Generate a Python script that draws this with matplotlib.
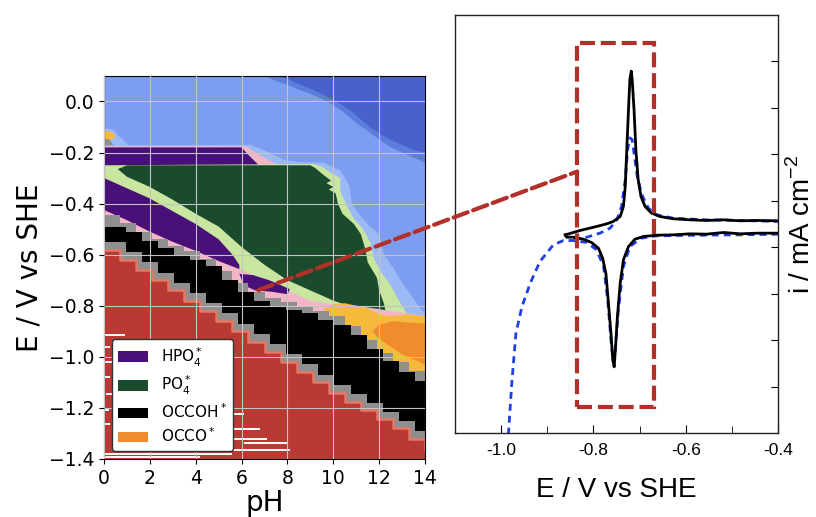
import numpy as np
import matplotlib.pyplot as plt
from matplotlib.patches import Patch, Rectangle, ConnectionPatch

# ---------------- Pourbaix-type surface map (left panel) ----------------
c_dark_blue, c_mid_blue, c_light_blue, c_pale_blue = "#4763cb", "#5d7ddc", "#7d9ef0", "#9bb9f5"
c_pink, c_purple, c_light_green, c_green = "#f2b6c6", "#481078", "#c8e6a0", "#1b4b2d"
c_yellow, c_orange, c_gray, c_black = "#f5b93c", "#f08c2d", "#8f8f8f", "#000000"
c_salmon, c_red = "#e67864", "#b93a34"

# region outlines (pH, E / V vs SHE)
mid_ph = [7.0, 7.5, 8.0, 8.5, 9.0, 9.5, 10.0, 10.5, 11.0, 11.5, 12.0, 12.5, 13.0, 13.5, 14.0, 14.0]
mid_E = [0.1, 0.08, 0.065, 0.045, 0.03, 0.01, -0.015, -0.045, -0.085, -0.115, -0.15, -0.18, -0.20, -0.22, -0.24, 0.1]
dark_ph = [7.5, 8.0, 8.3, 8.6, 9.0, 9.5, 10.0, 10.4, 10.8, 11.2, 11.6, 12.1, 12.6, 13.0, 13.5, 14.0, 14.0]
dark_E = [0.1, 0.09, 0.075, 0.065, 0.05, 0.03, 0.005, -0.015, -0.04, -0.07, -0.10, -0.13, -0.155, -0.17, -0.19, -0.20, 0.1]

corner_rim_ph = [0, 0.4, 0.7, 1.0, 1.2, 0]
corner_rim_E = [-0.105, -0.11, -0.14, -0.165, -0.178, -0.178]
corner_yellow_ph = [0, 0.35, 0.5, 0.35, 0]
corner_yellow_E = [-0.115, -0.12, -0.135, -0.15, -0.155]
corner_gray_ph = [0, 0.25, 0.45, 0]
corner_gray_E = [-0.145, -0.15, -0.178, -0.178]

rim_ph = [0, 6.4, 7.2, 7.9, 8.6, 9.6, 10.3, 10.7, 10.8, 11.1, 11.6, 12.0, 12.2, 12.6, 13.0, 13.4, 13.8, 14.0, 14.0, 0]
rim_E = [-0.172, -0.17, -0.20, -0.23, -0.238, -0.24, -0.27, -0.33, -0.40, -0.44, -0.49, -0.52, -0.60, -0.65, -0.71, -0.76, -0.81, -0.83, -1.4, -1.4]

top_pink_ph = [0, 6.2, 6.6, 7.2, 7.6, 7.6, 0]
top_pink_E = [-0.175, -0.175, -0.20, -0.23, -0.25, -0.26, -0.26]
top_purple_ph = [0, 6.0, 6.3, 6.7, 6.8, 0]
top_purple_E = [-0.18, -0.18, -0.21, -0.245, -0.26, -0.26]

lg_ph = [0, 9.1, 9.5, 9.9, 10.3, 10.3, 10.6, 10.9, 11.3, 11.6, 11.8, 12.1, 12.5, 12.8, 13.2, 13.3, 13.3, 0]
lg_E = [-0.25, -0.245, -0.255, -0.28, -0.30, -0.35, -0.41, -0.46, -0.50, -0.55, -0.62, -0.67, -0.72, -0.77, -0.83, -0.86, -1.4, -1.4]

green_ph = [0.6, 1.0, 3.0, 6.0, 9.0, 9.2, 9.6, 9.9, 9.7, 10.0, 9.8, 10.1, 10.2, 10.4, 10.9, 11.2, 11.4, 11.5, 11.9, 12.0, 12.2, 12.3,
            11.6, 11.0, 10.0, 9.0, 8.0, 7.0, 6.0, 5.0, 4.0, 3.0, 2.0, 1.0]
green_E = [-0.265, -0.25, -0.25, -0.25, -0.25, -0.26, -0.29, -0.31, -0.32, -0.335, -0.345, -0.36, -0.40, -0.44, -0.48, -0.52, -0.58,
           -0.63, -0.69, -0.74, -0.79, -0.83, -0.825, -0.81, -0.78, -0.74, -0.70, -0.64, -0.57, -0.49, -0.44, -0.385, -0.335, -0.295]

purple_lo_ph = [0, 1, 2, 3, 4, 5, 5.6, 5.9, 5.9, 0]
purple_lo_E = [-0.30, -0.34, -0.38, -0.43, -0.48, -0.54, -0.60, -0.64, -1.4, -1.4]

pink_ph = [0, 1, 2, 3, 4, 5, 6, 7, 8, 9, 10, 11, 14, 14, 0]
pink_E = [-0.425, -0.465, -0.51, -0.55, -0.585, -0.625, -0.66, -0.70, -0.74, -0.78, -0.795, -0.80, -0.84, -1.4, -1.4]

blob_ph = [5.9, 6.5, 7.2, 7.6, 8.1, 8.0, 7.3, 6.6, 6.1]
blob_E = [-0.675, -0.68, -0.70, -0.715, -0.735, -0.755, -0.745, -0.74, -0.72]

yellow_ph = [9.6, 10.0, 10.5, 11.0, 11.5, 12.0, 12.5, 13.3, 14.0, 14.0, 9.6]
yellow_E = [-0.81, -0.795, -0.79, -0.80, -0.81, -0.835, -0.84, -0.835, -0.84, -1.4, -1.4]
orange_ph = [11.7, 12.0, 12.6, 13.2, 14.0, 14.0, 13.5, 13.0, 12.5, 12.0]
orange_E = [-0.90, -0.875, -0.86, -0.865, -0.87, -1.03, -1.01, -0.99, -0.96, -0.93]

# staircase boundaries of the lower bands
ph_stair = np.arange(0, 14.01, 0.7)
gray_up_top = [-0.445, -0.475, -0.51, -0.54, -0.565, -0.585, -0.615, -0.665, -0.71, -0.745, -0.77,
               -0.785, -0.80, -0.82, -0.84, -0.88, -0.935, -0.985, -1.02, -1.055, -1.09]
black_top = [-0.49, -0.51, -0.545, -0.575, -0.60, -0.62, -0.645, -0.70, -0.745, -0.78, -0.80,
             -0.815, -0.83, -0.855, -0.875, -0.915, -0.97, -1.015, -1.06, -1.095, -1.13]
gray_lo_top = [-0.55, -0.59, -0.63, -0.67, -0.71, -0.75, -0.79, -0.83, -0.87, -0.91, -0.95,
               -0.99, -1.03, -1.07, -1.11, -1.145, -1.18, -1.215, -1.25, -1.29, -1.33]
red_top = [-0.58, -0.62, -0.66, -0.70, -0.74, -0.78, -0.82, -0.86, -0.90, -0.94, -0.98,
           -1.02, -1.06, -1.10, -1.14, -1.175, -1.21, -1.245, -1.28, -1.32, -1.36]

# unconverged points inside the red region
streak_E = [-0.916, -0.962, -1.02, -1.08, -1.146, -1.21, -1.264, -1.225, -1.284, -1.323, -1.336, -1.363, -1.382, -1.393]
streak_ph0 = [0, 0, 0, 0, 0.1, 0, 0, 5.5, 5.6, 5.5, 6.1, 5.5, 0, 0]
streak_ph1 = [0.92, 0.26, 0.33, 0.26, 0.33, 0.2, 0.26, 6.1, 6.8, 7.1, 8.0, 8.1, 5.6, 4.2]

legend_labels = [r"HPO$_4^*$", r"PO$_4^*$", r"OCCOH$^*$", r"OCCO$^*$"]
legend_colors = [c_purple, c_green, c_black, c_orange]

# ---------------- cyclic voltammogram (right panel) ----------------
cv_up_E = [-0.861, -0.829, -0.793, -0.771, -0.757, -0.742, -0.735, -0.731, -0.728, -0.724, -0.721, -0.718, -0.716,
           -0.712, -0.708, -0.703, -0.697, -0.688, -0.674, -0.656, -0.627, -0.591, -0.555, -0.518, -0.482, -0.446, -0.399]
cv_up_i = [-0.734, -0.640, -0.554, -0.496, -0.446, -0.338, -0.122, 0.309, 1.029, 1.964, 2.612, 2.791, 2.612,
           1.964, 1.101, 0.453, 0.094, -0.122, -0.266, -0.338, -0.388, -0.410, -0.424, -0.410, -0.432, -0.424, -0.432]
cv_dn_E = [-0.399, -0.446, -0.482, -0.518, -0.555, -0.591, -0.627, -0.663, -0.692, -0.710, -0.724, -0.735, -0.742, -0.748,
           -0.752, -0.755, -0.758, -0.762, -0.768, -0.773, -0.780, -0.789, -0.804, -0.822, -0.843, -0.858, -0.861]
cv_dn_i = [-0.698, -0.698, -0.712, -0.683, -0.719, -0.712, -0.734, -0.741, -0.770, -0.827, -0.986, -1.273, -1.777, -2.496,
           -3.144, -3.576, -3.432, -2.856, -2.137, -1.561, -1.237, -1.022, -0.899, -0.827, -0.784, -0.784, -0.734]

ref_up_E = [-0.843, -0.814, -0.786, -0.764, -0.749, -0.739, -0.731, -0.726, -0.721, -0.716, -0.711, -0.705, -0.695,
            -0.681, -0.663, -0.627, -0.555, -0.482, -0.399]
ref_up_i = [-0.827, -0.784, -0.698, -0.590, -0.410, -0.122, 0.453, 1.101, 1.353, 1.317, 0.957, 0.525, 0.129,
            -0.158, -0.302, -0.374, -0.410, -0.424, -0.446]
ref_dn_E = [-0.399, -0.482, -0.569, -0.663, -0.697, -0.721, -0.735, -0.746, -0.753, -0.757, -0.762, -0.769, -0.778,
            -0.793, -0.814, -0.843, -0.865, -0.887, -0.916, -0.937, -0.955, -0.968, -0.977, -0.984, -0.986]
ref_dn_i = [-0.719, -0.734, -0.741, -0.755, -0.806, -0.986, -1.417, -2.353, -3.288, -3.468, -3.0, -2.137, -1.417,
            -1.058, -0.899, -0.856, -0.856, -0.950, -1.309, -1.777, -2.281, -2.856, -3.935, -5.0, -5.3]

box_E = (-0.835, -0.669)
box_i = (-4.45, 3.40)
link_left = (6.73, -0.739)
link_right = (-0.835, 0.63)

cv_xticks = [-1.0, -0.8, -0.6, -0.4]
cv_xticklabels = ["-1.0", "-0.8", "-0.6", "-0.4"]
cv_minor = [-0.9, -0.7, -0.5]
cv_yticks = [-4, -3, -2, -1, 0, 1, 2, 3]

dark_red = "#b2302a"

fig = plt.figure(figsize=(8.16, 5.17), dpi=100)
ax1 = fig.add_axes([0.1275, 0.1122, 0.3934, 0.741])
ax2 = fig.add_axes([0.5576, 0.1625, 0.3958, 0.8085])

# left panel
ax1.set_facecolor(c_light_blue)
ax1.fill(mid_ph, mid_E, color=c_mid_blue, lw=0)
ax1.fill(dark_ph, dark_E, color=c_dark_blue, lw=0)
ax1.fill(corner_rim_ph, corner_rim_E, color=c_pale_blue, lw=0)
ax1.fill(corner_yellow_ph, corner_yellow_E, color=c_yellow, lw=0)
ax1.fill(corner_gray_ph, corner_gray_E, color=c_gray, lw=0)
ax1.fill(rim_ph, rim_E, color=c_pale_blue, lw=0)
ax1.fill(top_pink_ph, top_pink_E, color=c_pink, lw=0)
ax1.fill(top_purple_ph, top_purple_E, color=c_purple, lw=0)
ax1.fill(lg_ph, lg_E, color=c_light_green, lw=0)
ax1.fill(green_ph, green_E, color=c_green, lw=0)
ax1.fill(purple_lo_ph, purple_lo_E, color=c_purple, lw=0)
ax1.fill(pink_ph, pink_E, color=c_pink, lw=0)
ax1.fill(blob_ph, blob_E, color=c_purple, lw=0)
ax1.fill(yellow_ph, yellow_E, color=c_yellow, lw=0)
ax1.fill(orange_ph, orange_E, color=c_orange, lw=0)

# the lower edge of each band steps a little to the right of the one below it
ph_shift = np.clip(ph_stair + 0.25, 0, 14)
ph_shift[0] = 0
ax1.fill_between(ph_stair, gray_up_top, -1.4, step="post", color=c_gray, lw=0)
ax1.fill_between(ph_shift, black_top, -1.4, step="post", color=c_black, lw=0)
ax1.fill_between(ph_shift, gray_lo_top, -1.4, step="post", color=c_gray, lw=0)
ax1.fill_between(ph_stair, red_top, -1.4, step="post", color=c_red, lw=0)
ax1.step(ph_stair, red_top, where="post", color=c_salmon, lw=1.8)
ax1.hlines(streak_E, streak_ph0, streak_ph1, color="white", lw=1.4)

ax1.set_xlim(0, 14)
ax1.set_ylim(-1.4, 0.1)
ax1.set_xticks(range(0, 15, 2))
ax1.set_yticks(np.round(np.arange(-1.4, 0.01, 0.2), 1))
ax1.grid(True, color="#c4c4c4", lw=0.8)
ax1.set_axisbelow(False)
ax1.tick_params(labelsize=13.5)
ax1.set_xlabel("pH", fontsize=20, labelpad=1)
ax1.set_ylabel("E / V vs SHE", fontsize=20)

handles = [Patch(facecolor=c) for c in legend_colors]
leg = ax1.legend(handles, legend_labels, loc="lower left", fontsize=11, framealpha=1,
                 edgecolor="#333333", labelspacing=0.35)
leg.set_zorder(10)

# right panel
ax2.plot(ref_up_E, ref_up_i, color="#1f3fe6", lw=2, linestyle=(0, (2.5, 1.8)))
ax2.plot(ref_dn_E, ref_dn_i, color="#1f3fe6", lw=2, linestyle=(0, (2.5, 1.8)))
ax2.plot(cv_up_E, cv_up_i, color="black", lw=2)
ax2.plot(cv_dn_E, cv_dn_i, color="black", lw=2)

ax2.add_patch(Rectangle((box_E[0], box_i[0]), box_E[1] - box_E[0], box_i[1] - box_i[0],
                        fill=False, edgecolor=dark_red, lw=3, linestyle=(0, (3.6, 1.4)), zorder=5))

ax2.set_xlim(-1.1, -0.4)
ax2.set_ylim(-5, 4)
ax2.set_xticks(cv_xticks)
ax2.set_xticklabels(cv_xticklabels, fontfamily="Liberation Sans", fontsize=12.5)
ax2.set_xticks(cv_minor, minor=True)
ax2.tick_params(axis="x", which="both", direction="in", top=False, pad=7)
ax2.tick_params(axis="x", which="major", length=6)
ax2.tick_params(axis="x", which="minor", length=5)
ax2.yaxis.tick_right()
ax2.set_yticks(cv_yticks)
ax2.set_yticklabels([])
ax2.tick_params(axis="y", direction="in", left=False, right=True, length=5)
ax2.yaxis.set_label_position("right")
ax2.set_xlabel("E / V vs SHE", fontsize=20, fontfamily="Liberation Sans", labelpad=14)
ax2.set_ylabel(r"i / mA cm$^{\mathregular{-2}}$", fontsize=20, fontfamily="Liberation Sans", labelpad=3)
for s in ax2.spines.values():
    s.set_linewidth(1.0)
    s.set_color("#222222")

# dashed link between the map and the voltammogram
link = ConnectionPatch(xyA=link_left, coordsA=ax1.transData, xyB=link_right, coordsB=ax2.transData,
                       color=dark_red, lw=3, linestyle=(0, (3.6, 1.4)), zorder=20)
fig.add_artist(link)

fig.savefig("out.png", dpi=100)
